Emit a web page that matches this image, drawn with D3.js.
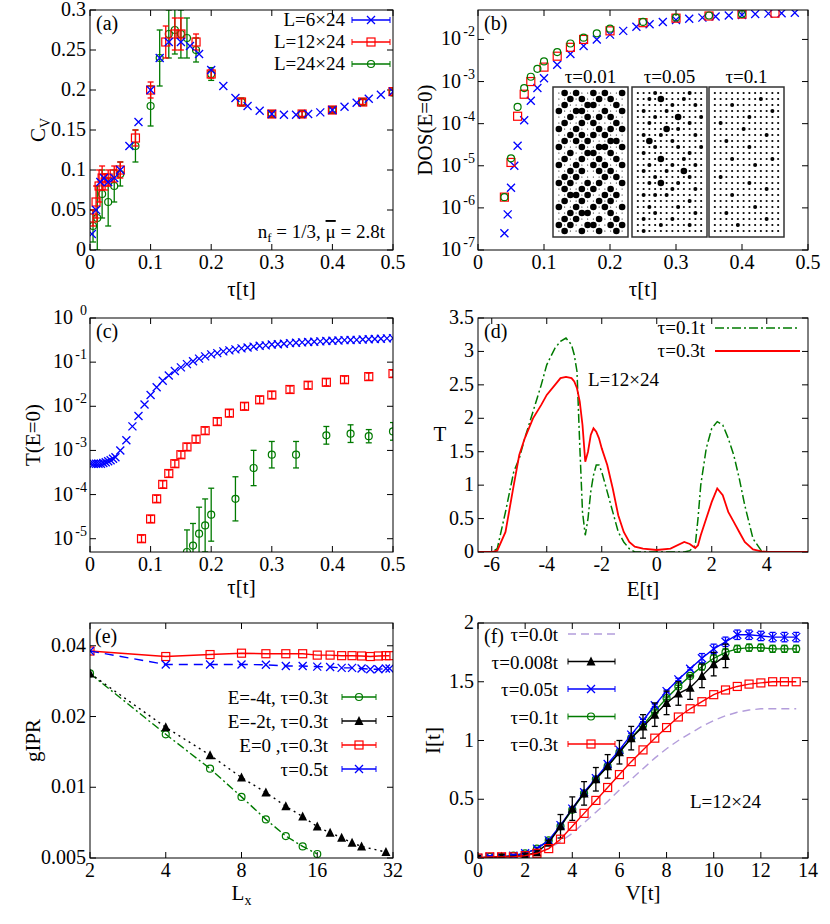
<!DOCTYPE html>
<html><head><meta charset="utf-8">
<script src="https://cdn.jsdelivr.net/npm/d3@7"></script>
<style>body{margin:0;background:#fff}svg text{font-family:"Liberation Serif","Times New Roman",serif;fill:#000}</style>
</head><body><svg id="c" width="830" height="924" font-family="Liberation Serif, serif"></svg>
<script>
// ---------- data ----------
const aTau6=[0.003,0.01,0.017,0.023,0.03,0.04,0.05,0.065,0.08,0.1,0.115,0.13,0.15,0.165,0.18,0.2,0.22,0.24,0.26,0.28,0.3,0.32,0.34,0.36,0.38,0.4,0.42,0.44,0.46,0.48,0.5];
const aCv6=[0.02,0.05,0.085,0.09,0.085,0.09,0.1,0.13,0.16,0.2,0.24,0.26,0.26,0.255,0.245,0.225,0.205,0.19,0.18,0.174,0.17,0.169,0.169,0.17,0.172,0.175,0.179,0.184,0.189,0.194,0.198];
const aTau12=[0.005,0.01,0.015,0.02,0.025,0.03,0.04,0.05,0.075,0.1,0.125,0.14,0.15,0.175,0.2,0.25,0.3,0.35,0.4,0.45,0.5];
const aCv12=[0.04,0.06,0.08,0.09,0.085,0.09,0.095,0.1,0.14,0.2,0.26,0.27,0.27,0.26,0.22,0.185,0.17,0.17,0.175,0.185,0.198];
const aErr12=[0.01,0.02,0.02,0.015,0.01,0.01,0.01,0.01,0.01,0.01,0.02,0.02,0.02,0.01,0.005,0.004,0.003,0.003,0.003,0.003,0.003];
const aTau24=[0.005,0.012,0.02,0.03,0.04,0.05,0.075,0.1,0.115,0.13,0.14,0.15,0.16,0.175,0.2,0.25,0.3,0.35,0.4,0.45,0.5];
const aCv24=[0.03,0.04,0.07,0.06,0.08,0.095,0.13,0.18,0.24,0.27,0.275,0.27,0.265,0.25,0.22,0.185,0.17,0.17,0.175,0.185,0.197];
const aErr24=[0.02,0.04,0.03,0.03,0.02,0.015,0.02,0.025,0.035,0.03,0.03,0.03,0.025,0.015,0.008,0.005,0.004,0.004,0.004,0.004,0.004];

const bTau6=[0.04,0.045,0.05,0.055,0.06,0.07,0.08,0.09,0.1,0.12,0.14,0.16,0.18,0.2,0.22,0.24,0.26,0.28,0.3,0.32,0.34,0.36,0.38,0.4,0.42,0.44,0.46,0.48];
const bDos6=[2.5e-7,7e-7,3e-6,1e-5,3e-5,1.2e-4,3.5e-4,7e-4,1.2e-3,2.5e-3,4.5e-3,7e-3,1e-2,1.3e-2,1.6e-2,2e-2,2.3e-2,2.6e-2,2.9e-2,3.1e-2,3.3e-2,3.5e-2,3.7e-2,3.8e-2,4e-2,4.1e-2,4.2e-2,4.3e-2];
const bTau12=[0.04,0.05,0.06,0.07,0.08,0.1,0.12,0.14,0.16,0.2,0.25,0.3,0.35,0.4,0.45];
const bDos12=[1.8e-6,1.2e-5,1.5e-4,5e-4,1e-3,2.2e-3,4e-3,6.5e-3,1e-2,1.6e-2,2.5e-2,3.2e-2,3.6e-2,4e-2,4.2e-2];
const bTau24=[0.04,0.05,0.06,0.07,0.08,0.09,0.1,0.12,0.14,0.16,0.18,0.2,0.25,0.3,0.35,0.4];
const bDos24=[1.8e-6,1.5e-5,2.5e-4,7e-4,1.3e-3,2e-3,3e-3,5e-3,8e-3,1.1e-2,1.4e-2,1.8e-2,2.6e-2,3.3e-2,3.7e-2,4e-2];
const insetLabels=["τ=0.01","τ=0.05","τ=0.1"];
const insetDots=[
["030300303003","003030030300","030003300030","300330003003","003003030300","030030300030","300300030303","003030303000","030303000330","300030033003","003003300300","030030030030","300300303003","003030030300","030300003030","303003030003","030030300300","003303003030","030030030300","300300303003","003033000300","030300030030","303003300303","030030030030"],
["111211111211","112131112111","111111211121","121112111111","111211131112","112111111211","111113121111","121121111121","113111211111","111211121112","121111111211","111131112111","112111211121","121112113111","111211111211","112131121111","111111211121","121212111111","111111111211","112111121111","111211111121","121111211111","111121111211","121111111111"],
["111111111111","111111112111","111211111111","111111111121","111111211111","121111111111","111112111111","111111111211","112111111111","111111211111","111111111111","111211111121","111111121111","111111111111","121111111111","111111211111","111111111211","111211111111","111111111111","111111121111","112111111111","111111111211","111121111111","111111111111"]];

const cTau6=[0.002,0.006,0.01,0.014,0.018,0.022,0.026,0.03,0.034,0.038,0.042,0.05,0.06,0.07,0.08,0.09,0.1,0.11,0.12,0.13,0.14,0.15,0.16,0.17,0.18,0.19,0.2,0.21,0.22,0.23,0.24,0.25,0.26,0.27,0.28,0.29,0.3,0.31,0.32,0.33,0.34,0.35,0.36,0.37,0.38,0.39,0.4,0.41,0.42,0.43,0.44,0.45,0.46,0.47,0.48,0.49,0.5];
const cT6=[5e-4,5e-4,5e-4,5e-4,5e-4,5.2e-4,5.4e-4,5.7e-4,6e-4,6.5e-4,7e-4,1e-3,1.7e-3,3.5e-3,6e-3,1.1e-2,1.8e-2,2.7e-2,3.8e-2,5e-2,6.3e-2,7.6e-2,9e-2,0.105,0.12,0.135,0.15,0.16,0.175,0.185,0.195,0.205,0.215,0.225,0.235,0.24,0.25,0.255,0.26,0.27,0.275,0.28,0.285,0.29,0.295,0.3,0.305,0.31,0.315,0.318,0.32,0.325,0.33,0.335,0.34,0.345,0.35];
const cTau12=[0.085,0.1,0.11,0.12,0.13,0.14,0.15,0.16,0.175,0.19,0.21,0.23,0.255,0.28,0.3,0.33,0.36,0.39,0.42,0.46,0.5];
const cT12=[1e-5,2.8e-5,8e-5,1.7e-4,3e-4,5e-4,8e-4,1.2e-3,1.8e-3,2.8e-3,4.5e-3,7e-3,1e-2,1.4e-2,1.8e-2,2.4e-2,3e-2,3.5e-2,4e-2,4.7e-2,5.5e-2];
const cTau24=[0.16,0.17,0.18,0.19,0.2,0.24,0.27,0.3,0.34,0.39,0.43,0.46,0.5];
const cT24=[5e-6,7e-6,1.3e-5,2e-5,3.5e-5,8e-5,4e-4,8e-4,8e-4,2.2e-3,2.4e-3,2.1e-3,2.7e-3];
const cErr24=[0.5,0.5,0.6,0.6,0.6,0.5,0.4,0.3,0.3,0.2,0.2,0.15,0.2];

const dE=[-6.5,-6,-5.8,-5.5,-5.2,-5,-4.8,-4.5,-4.2,-4,-3.7,-3.5,-3.3,-3.1,-3,-2.9,-2.8,-2.7,-2.6,-2.5,-2.4,-2.3,-2.2,-2.1,-2,-1.8,-1.6,-1.4,-1.2,-1,-0.8,-0.5,0,0.5,1,1.2,1.4,1.5,1.6,1.8,2,2.2,2.4,2.6,2.8,3,3.2,3.5,3.8,4,5.5];
const dT01=[0,0,0.05,0.6,1.2,1.4,1.7,2.1,2.5,2.8,3.05,3.15,3.2,3.1,2.95,2.7,1.6,0.6,0.25,0.5,0.9,1.15,1.3,1.3,1.2,0.9,0.6,0.3,0.15,0.05,0,0,0,0,0,0.02,0.1,0.5,1.0,1.55,1.85,1.95,1.9,1.7,1.45,1.1,0.7,0.2,0.02,0,0];
const dT03=[0,0,0.02,0.3,1.0,1.45,1.7,2.0,2.2,2.35,2.5,2.6,2.62,2.6,2.55,2.45,2.25,1.9,1.35,1.5,1.75,1.85,1.8,1.7,1.55,1.3,0.95,0.55,0.3,0.15,0.08,0.05,0.03,0.05,0.15,0.12,0.06,0.1,0.25,0.5,0.75,0.95,0.85,0.6,0.45,0.3,0.15,0.04,0.01,0,0];

const eL=[2,4,6,8,10,12,14,16,18,20,22,24,26,28,30,31];
const eRed=[0.038,0.036,0.0367,0.0372,0.037,0.037,0.037,0.0365,0.0365,0.0363,0.0363,0.0362,0.036,0.0362,0.0363,0.0363];
const eBlue=[0.038,0.0333,0.0333,0.0333,0.0332,0.0328,0.0328,0.0326,0.0325,0.0322,0.0322,0.032,0.0318,0.0318,0.032,0.032];
const eLg=[2,4,6,8,10,12,14,16];
const eGreen=[0.0305,0.0168,0.012,0.0091,0.0073,0.0062,0.0056,0.0052];
const eLb=[2,4,6,8,10,12,14,16,18,20,22,24,30];
const eBlack=[0.0305,0.018,0.0137,0.011,0.0095,0.0083,0.0075,0.0068,0.0064,0.0061,0.0058,0.0056,0.0053];
const eLegend=["E=-4t, τ=0.3t","E=-2t, τ=0.3t","E=0 ,τ=0.3t","τ=0.5t"];

const fV=[0,0.5,1,1.5,2,2.5,3,3.5,4,4.5,5,5.5,6,6.5,7,7.5,8,8.5,9,9.5,10,10.5,11,11.5,12,12.5,13,13.5];
const fI00=[0,0,0,0.01,0.02,0.05,0.08,0.14,0.21,0.3,0.39,0.48,0.58,0.67,0.76,0.85,0.93,1.0,1.06,1.12,1.17,1.21,1.24,1.26,1.27,1.27,1.27,1.27];
const fI005=[0,0.01,0.01,0.02,0.04,0.08,0.15,0.28,0.42,0.56,0.68,0.8,0.92,1.05,1.17,1.3,1.42,1.52,1.61,1.7,1.78,1.84,1.9,1.9,1.89,1.88,1.88,1.88];
const fI01=[0,0.01,0.01,0.02,0.04,0.08,0.15,0.27,0.41,0.55,0.67,0.78,0.9,1.02,1.13,1.25,1.36,1.46,1.55,1.63,1.7,1.75,1.78,1.79,1.79,1.78,1.78,1.78];
const fV008=[0,1,2,2.5,3,3.5,4,4.5,5,5.5,6,6.5,7,7.5,8,8.5,9,9.5,10,10.5];
const fI008=[0,0.01,0.02,0.05,0.13,0.27,0.42,0.55,0.67,0.78,0.9,1.02,1.12,1.22,1.32,1.4,1.45,1.55,1.65,1.72];
const fI03=[0,0.01,0.01,0.01,0.02,0.04,0.08,0.16,0.27,0.38,0.49,0.6,0.71,0.82,0.92,1.02,1.11,1.2,1.27,1.33,1.39,1.43,1.46,1.48,1.49,1.5,1.5,1.5];
const fLegend=["τ=0.0t","τ=0.008t","τ=0.05t","τ=0.1t","τ=0.3t"];

// ---------- helpers ----------
const svg=d3.select("#c");
const BL="#0000ff",RD="#ff0000",GR="#007a00",BK="#000",PU="#b39ddb";
const L0=90,L1=393,R0=478,R1=808;
function frame(g,x0,x1,y0,y1){g.append("rect").attr("x",x0).attr("y",y0).attr("width",x1-x0).attr("height",y1-y0).attr("fill","none").attr("stroke","#000").attr("stroke-width",1);}
function tx(g,x,y,t,o={}){return g.append("text").attr("x",x).attr("y",y).attr("font-size",o.fs||19).attr("font-family","Liberation Serif, serif").attr("text-anchor",o.a||"start").text(t);}
function ticksX(x,y0,y1,vals,fmt){vals.forEach(v=>{const p=x(v);svg.append("line").attr("x1",p).attr("x2",p).attr("y1",y1).attr("y2",y1-6).attr("stroke","#000");svg.append("line").attr("x1",p).attr("x2",p).attr("y1",y0).attr("y2",y0+6).attr("stroke","#000");tx(svg,p,y1+19,fmt(v),{a:"middle",fs:20});});}
function ticksY(y,x0,x1,vals,fmt,sup){vals.forEach(v=>{const p=y(v);svg.append("line").attr("x1",x0).attr("x2",x0+6).attr("y1",p).attr("y2",p).attr("stroke","#000");svg.append("line").attr("x1",x1).attr("x2",x1-6).attr("y1",p).attr("y2",p).attr("stroke","#000");
 if(sup){tx(svg,x0-17,p+6,"10",{a:"end",fs:20});tx(svg,x0-3,p-3,sup(v),{a:"end",fs:14});}
 else tx(svg,x0-4,p+6,fmt(v),{a:"end",fs:20});});}
function marker(g,type,cx,cy,col,s=4){
 if(type==="x"){g.append("path").attr("d",`M${cx-s},${cy-s}L${cx+s},${cy+s}M${cx-s},${cy+s}L${cx+s},${cy-s}`).attr("stroke",col).attr("stroke-width",1.3);}
 else if(type==="sq"){g.append("rect").attr("x",cx-s).attr("y",cy-s).attr("width",2*s).attr("height",2*s).attr("fill","none").attr("stroke",col).attr("stroke-width",1.2);}
 else if(type==="o"){g.append("circle").attr("cx",cx).attr("cy",cy).attr("r",s-0.5).attr("fill","none").attr("stroke",col).attr("stroke-width",1.2);}
 else if(type==="tri"){g.append("path").attr("d",`M${cx},${cy-s-1}L${cx+s+0.5},${cy+s}L${cx-s-0.5},${cy+s}Z`).attr("fill",col);}
}
function series(g,x,y,xs,ys,type,col,errs,logErr){xs.forEach((v,i)=>{const cx=x(v),cy=y(ys[i]);
 if(errs){let lo,hi;if(logErr){lo=ys[i]/Math.pow(10,errs[i]);hi=ys[i]*Math.pow(10,errs[i]);}else{lo=ys[i]-errs[i];hi=ys[i]+errs[i];}
  const a=y(lo),b=y(hi);g.append("line").attr("x1",cx).attr("x2",cx).attr("y1",a).attr("y2",b).attr("stroke",col).attr("stroke-width",1.3);
  [a,b].forEach(q=>g.append("line").attr("x1",cx-3).attr("x2",cx+3).attr("y1",q).attr("y2",q).attr("stroke",col).attr("stroke-width",1.3));}
 marker(g,type,cx,cy,col);});}
function line(g,x,y,xs,ys,col,dash,w=1.4){g.append("path").attr("d",d3.line().x((d,i)=>x(xs[i])).y(d=>y(d))(ys)).attr("fill","none").attr("stroke",col).attr("stroke-width",w).attr("stroke-dasharray",dash||null);}
function clip(id,x0,x1,y0,y1){svg.append("clipPath").attr("id",id).append("rect").attr("x",x0).attr("y",y0).attr("width",x1-x0).attr("height",y1-y0);return svg.append("g").attr("clip-path",`url(#${id})`);}
const supExp=v=>String(Math.round(Math.log10(v)));
function ylab(x,y,t){return svg.append("text").attr("transform",`translate(${x},${y})rotate(-90)`).attr("text-anchor","middle").attr("font-size",21).attr("font-family","Liberation Serif, serif").text(t);}

// ---------- (a) ----------
{const y0=10,y1=250;const x=d3.scaleLinear([0,0.5],[L0,L1]),y=d3.scaleLinear([0,0.3],[y1,y0]);
 ticksX(x,y0,y1,[0,0.1,0.2,0.3,0.4,0.5],d=>d===0?"0":d3.format(".1f")(d));
 ticksY(y,L0,L1,[0,0.05,0.1,0.15,0.2,0.25,0.3],d=>d===0?"0":String(+d.toFixed(2)));
 const g=clip("ca",L0,L1,y0,y1);
 series(g,x,y,aTau24,aCv24,"o",GR,aErr24);
 series(g,x,y,aTau12,aCv12,"sq",RD,aErr12);
 series(g,x,y,aTau6,aCv6,"x",BL);
 frame(svg,L0,L1,y0,y1);
 tx(svg,96,30,"(a)",{fs:20});
 [["L=6×24","x",BL],["L=12×24","sq",RD],["L=24×24","o",GR]].forEach((d,i)=>{const yy=20+i*22;tx(svg,345,yy+6,d[0],{a:"end",fs:19});
  svg.append("line").attr("x1",352).attr("x2",390).attr("y1",yy).attr("y2",yy).attr("stroke",d[2]).attr("stroke-width",1.4);
  [352,390].forEach(q=>svg.append("line").attr("x1",q).attr("x2",q).attr("y1",yy-3).attr("y2",yy+3).attr("stroke",d[2]));marker(svg,d[1],371,yy,d[2]);});
 const t=tx(svg,385,238,"",{a:"end",fs:19});t.append("tspan").text("n");t.append("tspan").attr("font-size",13).attr("dy",4).text("f");t.append("tspan").attr("dy",-4).text(" = 1/3, ");t.append("tspan").attr("text-decoration","overline").text("μ");t.append("tspan").text(" = 2.8t");
 const yl=ylab(45,(y0+y1)/2,"");yl.append("tspan").text("C");yl.append("tspan").attr("font-size",14).attr("dy",5).text("V");
 tx(svg,(L0+L1)/2,296,"τ[t]",{a:"middle",fs:21});}

// ---------- (b) ----------
{const y0=10,y1=250;const x=d3.scaleLinear([0,0.5],[R0,R1]),y=d3.scaleLog([1e-7,0.05],[y1,y0]);
 ticksX(x,y0,y1,[0,0.1,0.2,0.3,0.4,0.5],d=>d===0?"0":d3.format(".1f")(d));
 ticksY(y,R0,R1,[1e-7,1e-6,1e-5,1e-4,1e-3,1e-2],null,supExp);
 const g=clip("cb",R0,R1,y0,y1);
 series(g,x,y,bTau6,bDos6,"x",BL);series(g,x,y,bTau12,bDos12,"sq",RD);series(g,x,y,bTau24,bDos24,"o",GR);
 frame(svg,R0,R1,y0,y1);
 tx(svg,484,30,"(b)",{fs:20});
 ylab(432,(y0+y1)/2,"DOS(E=0)");
 tx(svg,(R0+R1)/2,296,"τ[t]",{a:"middle",fs:21});
 const bx=[553,632,709],bw=75,by=87,bh=150;
 insetDots.forEach((rows,k)=>{svg.append("rect").attr("x",bx[k]).attr("y",by).attr("width",bw).attr("height",bh).attr("fill","#fff").attr("stroke","#333").attr("stroke-width",1.5);
  tx(svg,bx[k]+bw/2,by-4,insetLabels[k],{a:"middle",fs:19});
  const sx=d3.scaleBand(d3.range(12),[bx[k]+3,bx[k]+bw-3]),sy=d3.scaleBand(d3.range(24),[by+3,by+bh-3]);
  const r=d3.scaleOrdinal([0,1,2,3],[0.6,1.1,2.0,3.3]);
  rows.forEach((row,j)=>row.split("").forEach((c,i)=>svg.append("circle").attr("cx",sx(i)+sx.bandwidth()/2).attr("cy",sy(j)+sy.bandwidth()/2).attr("r",r(+c)).attr("fill","#000")));});}

// ---------- (c) ----------
{const y0=318,y1=552;const x=d3.scaleLinear([0,0.5],[L0,L1]),y=d3.scaleLog([5e-6,1],[y1,y0]);
 ticksX(x,y0,y1,[0,0.1,0.2,0.3,0.4,0.5],d=>d===0?"0":d3.format(".1f")(d));
 ticksY(y,L0,L1,[1e-5,1e-4,1e-3,1e-2,1e-1,1],null,supExp);
 const g=clip("cc",L0,L1,y0,y1);
 series(g,x,y,cTau6,cT6,"x",BL);series(g,x,y,cTau12,cT12,"sq",RD,cT12.map(()=>0.08),true);series(g,x,y,cTau24,cT24,"o",GR,cErr24,true);
 frame(svg,L0,L1,y0,y1);
 tx(svg,96,338,"(c)",{fs:20});
 ylab(40,(y0+y1)/2,"T(E=0)");
 tx(svg,(L0+L1)/2,594,"τ[t]",{a:"middle",fs:21});}

// ---------- (d) ----------
{const y0=318,y1=552;const x=d3.scaleLinear([-6.5,5.5],[R0,R1]),y=d3.scaleLinear([0,3.5],[y1,y0]);
 ticksX(x,y0,y1,[-6,-4,-2,0,2,4],String);
 ticksY(y,R0,R1,[0,0.5,1,1.5,2,2.5,3,3.5],String);
 const g=clip("cd",R0,R1,y0,y1);
 line(g,x,y,dE,dT01,GR,"9,3,2,3",1.5);line(g,x,y,dE,dT03,RD,null,1.8);
 frame(svg,R0,R1,y0,y1);
 tx(svg,484,338,"(d)",{fs:20});
 tx(svg,705,334,"τ=0.1t",{a:"end",fs:19});svg.append("line").attr("x1",715).attr("x2",800).attr("y1",328).attr("y2",328).attr("stroke",GR).attr("stroke-width",1.5).attr("stroke-dasharray","9,3,2,3");
 tx(svg,705,357,"τ=0.3t",{a:"end",fs:19});svg.append("line").attr("x1",715).attr("x2",800).attr("y1",351).attr("y2",351).attr("stroke",RD).attr("stroke-width",1.8);
 tx(svg,588,386,"L=12×24",{fs:19});
 tx(svg,440,(y0+y1)/2+6,"T",{a:"middle",fs:21});
 tx(svg,(R0+R1)/2,596,"E[t]",{a:"middle",fs:21});}

// ---------- (e) ----------
{const y0=623,y1=858;const x=d3.scaleLog([2,32],[L0,L1]).base(2),y=d3.scaleLog([0.005,0.05],[y1,y0]);
 ticksX(x,y0,y1,[2,4,8,16,32],String);
 ticksY(y,L0,L1,[0.005,0.01,0.02,0.04],String);
 const g=clip("ce",L0,L1,y0,y1);
 line(g,x,y,eLg,eGreen,GR,"8,3,2,3");series(g,x,y,eLg,eGreen,"o",GR);
 line(g,x,y,eLb,eBlack,BK,"2,4");series(g,x,y,eLb,eBlack,"tri",BK);
 line(g,x,y,eL,eRed,RD);series(g,x,y,eL,eRed,"sq",RD);
 line(g,x,y,eL,eBlue,BL,"9,6");series(g,x,y,eL,eBlue,"x",BL);
 frame(svg,L0,L1,y0,y1);
 tx(svg,95,643,"(e)",{fs:20});
 [["o",GR],["tri",BK],["sq",RD],["x",BL]].forEach((d,i)=>{const yy=697+i*24;tx(svg,328,yy+7,eLegend[i],{a:"end",fs:19});
  svg.append("line").attr("x1",342).attr("x2",376).attr("y1",yy).attr("y2",yy).attr("stroke",d[1]).attr("stroke-width",1.4);
  [342,376].forEach(q=>svg.append("line").attr("x1",q).attr("x2",q).attr("y1",yy-3).attr("y2",yy+3).attr("stroke",d[1]));marker(svg,d[0],359,yy,d[1]);});
 ylab(40,(y0+y1)/2,"gIPR");
 const t=tx(svg,(L0+L1)/2,900,"",{a:"middle",fs:21});t.append("tspan").text("L");t.append("tspan").attr("font-size",14).attr("dy",5).text("x");}

// ---------- (f) ----------
{const y0=623,y1=858;const x=d3.scaleLinear([0,14],[R0,R1]),y=d3.scaleLinear([0,2],[y1,y0]);
 ticksX(x,y0,y1,[0,2,4,6,8,10,12,14],String);
 ticksY(y,R0,R1,[0,0.5,1,1.5,2],String);
 const g=clip("cf",R0,R1,y0-8,y1);
 line(g,x,y,fV,fI00,PU,"8,5");
 line(g,x,y,fV,fI01,GR);series(g,x,y,fV,fI01,"o",GR,fI01.map((d,i)=>i>18?0.03:0.01));
 line(g,x,y,fV,fI005,BL);series(g,x,y,fV,fI005,"x",BL,fI005.map((d,i)=>i>18?0.04:0.01));
 line(g,x,y,fV008,fI008,BK);series(g,x,y,fV008,fI008,"tri",BK,fI008.map((d,i)=>i>4?0.1:0.02));
 line(g,x,y,fV,fI03,RD);series(g,x,y,fV,fI03,"sq",RD);
 frame(svg,R0,R1,y0,y1);
 tx(svg,484,643,"(f)",{fs:20});
 [[null,PU,"8,5"],["tri",BK],["x",BL],["o",GR],["sq",RD]].forEach((d,i)=>{const yy=634+i*27.5;tx(svg,558,yy+7,fLegend[i],{a:"end",fs:19});
  svg.append("line").attr("x1",568).attr("x2",615).attr("y1",yy).attr("y2",yy).attr("stroke",d[1]).attr("stroke-width",1.4).attr("stroke-dasharray",d[2]||null);
  if(d[0]){[568,615].forEach(q=>svg.append("line").attr("x1",q).attr("x2",q).attr("y1",yy-3).attr("y2",yy+3).attr("stroke",d[1]));marker(svg,d[0],591,yy,d[1]);}});
 tx(svg,690,808,"L=12×24",{fs:19});
 ylab(440,(y0+y1)/2,"I[t]");
 tx(svg,(R0+R1)/2,900,"V[t]",{a:"middle",fs:21});}
</script></body></html>
